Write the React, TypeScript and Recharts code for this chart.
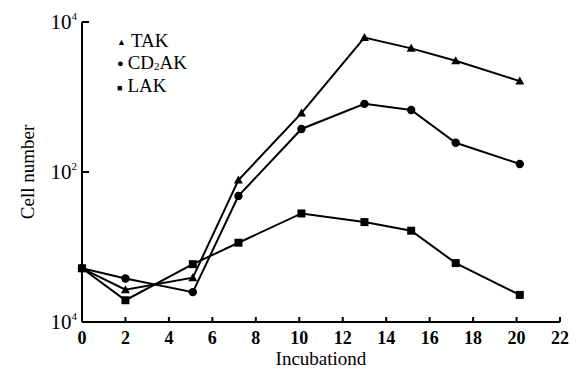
import React from "react";
import { LineChart, Line, XAxis, YAxis } from "recharts";

// Days of incubation (x positions)
const days = [0, 2, 5.1, 7.2, 10.1, 13, 15.15, 17.2, 20.15];
const takValues = [5.2, 2.7, 3.9, 78, 610, 6200, 4450, 3050, 1630];
const cd2akValues = [5.2, 3.8, 2.5, 48, 375, 810, 670, 245, 128];
const lakValues = [5.2, 1.95, 5.9, 11.4, 28, 21.5, 16.5, 6.1, 2.3];

const xTicks = [0, 2, 4, 6, 8, 10, 12, 14, 16, 18, 20, 22];
const yTicks = [1, 100, 10000];
const yTickExponents = ["4", "2", "4"];

const data = days.map((d, i) => ({
  day: d,
  tak: takValues[i],
  cd2ak: cd2akValues[i],
  lak: lakValues[i],
}));

const FONT = "'Liberation Serif', 'DejaVu Serif', serif";

const XTick = (props: any) => {
  const { x, y, payload } = props;
  return (
    <g>
      <line x1={x} y1={y} x2={x} y2={y - 5} stroke="#000" strokeWidth={2} />
      <text
        x={x}
        y={y + 22}
        textAnchor="middle"
        fontFamily={FONT}
        fontSize={18}
        fontWeight="bold"
        fill="#000"
      >
        {payload.value}
      </text>
    </g>
  );
};

const YTick = (props: any) => {
  const { x, y, payload, index } = props;
  return (
    <g>
      {payload.value !== 1 && (
        <line x1={x} y1={y} x2={x + 7} y2={y} stroke="#000" strokeWidth={2} />
      )}
      <text
        x={x - 5}
        y={y + 7}
        textAnchor="end"
        fontFamily={FONT}
        fontSize={21}
        fill="#000"
      >
        10
        <tspan fontSize={11} dy={-9}>
          {yTickExponents[index]}
        </tspan>
      </text>
    </g>
  );
};

const YLabel = () => (
  <text
    x={27}
    y={172}
    transform="rotate(-90 27 172)"
    textAnchor="middle"
    dominantBaseline="central"
    fontFamily={FONT}
    fontSize={19}
    fill="#000"
  >
    Cell number
  </text>
);

const Triangle = (props: any) => {
  const { cx, cy } = props;
  return (
    <path
      d={`M${cx},${cy - 4.5} L${cx + 4.5},${cy + 3.5} L${cx - 4.5},${cy + 3.5} Z`}
      fill="#000"
    />
  );
};

const Circle = (props: any) => {
  const { cx, cy } = props;
  return <circle cx={cx} cy={cy} r={4.2} fill="#000" />;
};

const Square = (props: any) => {
  const { cx, cy } = props;
  return <rect x={cx - 4} y={cy - 4} width={8} height={8} fill="#000" />;
};

const LegendBox = () => (
  <div
    style={{
      position: "absolute",
      left: 117,
      top: 31,
      fontFamily: FONT,
      fontSize: 19,
      color: "#000",
      lineHeight: "20.5px",
    }}
  >
    <div>
      <span style={{ fontSize: 9, marginRight: 5, verticalAlign: 2 }}>▲</span>TAK
    </div>
    <div>
      <span style={{ fontSize: 11, marginRight: 4, verticalAlign: 2 }}>●</span>CD
      <sub style={{ fontSize: 11, verticalAlign: -1 }}>2</sub>AK
    </div>
    <div>
      <span style={{ fontSize: 9, marginRight: 5, verticalAlign: 1 }}>■</span>LAK
    </div>
  </div>
);

export default function App() {
  return (
    <div
      style={{
        position: "absolute",
        left: 0,
        top: 0,
        width: 585,
        height: 369,
        background: "#fff",
      }}
    >
      <LineChart
        width={585}
        height={369}
        data={data}
        margin={{ top: 22, right: 25, bottom: 17, left: 0 }}
      >
        <XAxis
          dataKey="day"
          type="number"
          domain={[0, 22]}
          ticks={xTicks}
          interval={0}
          height={30}
          tickSize={0}
          tickMargin={0}
          tick={<XTick />}
          axisLine={{ stroke: "#000", strokeWidth: 2 }}
          label={{
            value: "Incubationd",
            position: "insideBottom",
            offset: -13,
            fill: "#000",
            style: { fontFamily: FONT, fontSize: 19, fill: "#000" },
          }}
        />
        <YAxis
          scale="log"
          domain={[1, 10000]}
          ticks={yTicks}
          interval={0}
          width={82}
          tickSize={0}
          tickMargin={0}
          tick={<YTick />}
          axisLine={{ stroke: "#000", strokeWidth: 2 }}
        />
        <Line
          dataKey="tak"
          stroke="#000"
          strokeWidth={2}
          dot={<Triangle />}
          activeDot={false}
          isAnimationActive={false}
        />
        <Line
          dataKey="cd2ak"
          stroke="#000"
          strokeWidth={2}
          dot={<Circle />}
          activeDot={false}
          isAnimationActive={false}
        />
        <Line
          dataKey="lak"
          stroke="#000"
          strokeWidth={2}
          dot={<Square />}
          activeDot={false}
          isAnimationActive={false}
        />
        <YLabel />
      </LineChart>
      <LegendBox />
    </div>
  );
}
